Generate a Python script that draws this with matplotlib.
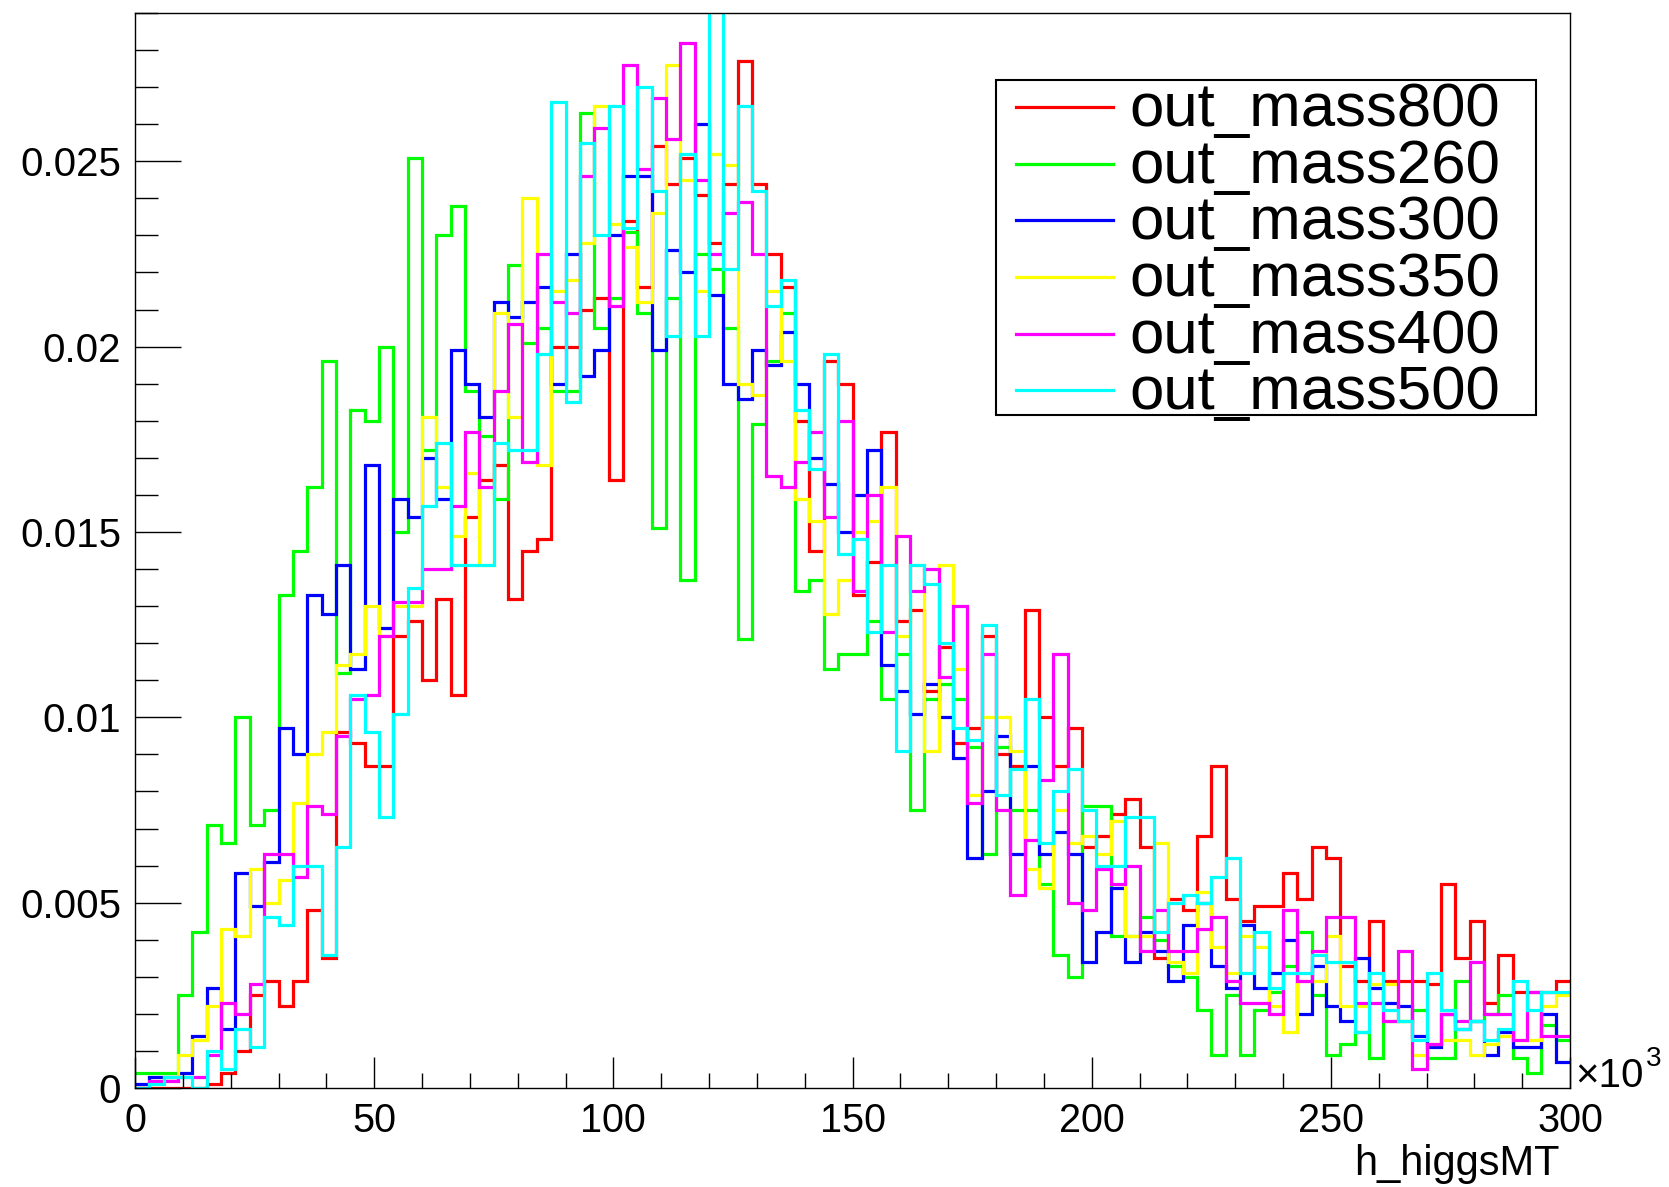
import matplotlib.pyplot as plt
from matplotlib.lines import Line2D
from matplotlib.patches import Rectangle
from matplotlib.ticker import MultipleLocator, FixedLocator, FixedFormatter
import numpy as np

plt.rcParams['font.family'] = ['Liberation Sans', 'DejaVu Sans']

# binning of h_higgsMT (units of 10^3): 100 bins from 0 to 300
x_min, x_max, n_bins = 0, 300, 100

# normalised bin contents
mass800 = [0.0, 0.0, 0.0, 0.0, 0.0, 0.0001, 0.0004, 0.0010, 0.0025, 0.0029,
           0.0022, 0.0029, 0.0048, 0.0035, 0.0096, 0.0093, 0.0087, 0.0087, 0.0122, 0.0126,
           0.0110, 0.0132, 0.0106, 0.0154, 0.0164, 0.0168, 0.0132, 0.0145, 0.0148, 0.0200,
           0.0200, 0.0210, 0.0213, 0.0164, 0.0234, 0.0216, 0.0254, 0.0244, 0.0251, 0.0241,
           0.0228, 0.0244, 0.0277, 0.0244, 0.0225, 0.0216, 0.0180, 0.0145, 0.0196, 0.0190,
           0.0133, 0.0142, 0.0177, 0.0126, 0.0129, 0.0107, 0.0119, 0.0093, 0.0097, 0.0122,
           0.0090, 0.0087, 0.0129, 0.0100, 0.0087, 0.0097, 0.0065, 0.0068, 0.0074, 0.0078,
           0.0065, 0.0035, 0.0051, 0.0048, 0.0068, 0.0087, 0.0051, 0.0045, 0.0049, 0.0049,
           0.0058, 0.0051, 0.0065, 0.0062, 0.0033, 0.0029, 0.0045, 0.0029, 0.0029, 0.0029,
           0.0028, 0.0055, 0.0035, 0.0045, 0.0023, 0.0036, 0.0026, 0.0026, 0.0026, 0.0029]

mass260 = [0.0004, 0.0004, 0.0004, 0.0025, 0.0042, 0.0071, 0.0066, 0.0100, 0.0071, 0.0075,
           0.0133, 0.0145, 0.0162, 0.0196, 0.0112, 0.0183, 0.0180, 0.0200, 0.0150, 0.0251,
           0.0172, 0.0230, 0.0238, 0.0188, 0.0176, 0.0159, 0.0222, 0.0201, 0.0205, 0.0188,
           0.0188, 0.0263, 0.0205, 0.0213, 0.0231, 0.0209, 0.0151, 0.0213, 0.0137, 0.0225,
           0.0221, 0.0205, 0.0121, 0.0179, 0.0196, 0.0209, 0.0134, 0.0137, 0.0113, 0.0117,
           0.0117, 0.0126, 0.0105, 0.0117, 0.0075, 0.0105, 0.0109, 0.0105, 0.0092, 0.0063,
           0.0092, 0.0075, 0.0075, 0.0055, 0.0036, 0.0030, 0.0076, 0.0076, 0.0041, 0.0041,
           0.0046, 0.0040, 0.0033, 0.0030, 0.0021, 0.0009, 0.0025, 0.0009, 0.0021, 0.0026,
           0.0033, 0.0042, 0.0025, 0.0009, 0.0012, 0.0015, 0.0008, 0.0018, 0.0018, 0.0021,
           0.0008, 0.0008, 0.0029, 0.0018, 0.0020, 0.0025, 0.0008, 0.0004, 0.0017, 0.0013]

mass300 = [0.0001, 0.0003, 0.0003, 0.0004, 0.0014, 0.0027, 0.0016, 0.0058, 0.0049, 0.0061,
           0.0097, 0.0090, 0.0133, 0.0128, 0.0141, 0.0113, 0.0168, 0.0124, 0.0159, 0.0154,
           0.0170, 0.0159, 0.0199, 0.0190, 0.0181, 0.0212, 0.0208, 0.0212, 0.0216, 0.0190,
           0.0225, 0.0192, 0.0199, 0.0230, 0.0246, 0.0246, 0.0199, 0.0226, 0.0220, 0.0260,
           0.0214, 0.0190, 0.0186, 0.0199, 0.0195, 0.0204, 0.0190, 0.0170, 0.0163, 0.0150,
           0.0160, 0.0172, 0.0114, 0.0107, 0.0101, 0.0109, 0.0100, 0.0089, 0.0062, 0.0080,
           0.0095, 0.0063, 0.0087, 0.0063, 0.0069, 0.0063, 0.0034, 0.0042, 0.0054, 0.0034,
           0.0042, 0.0037, 0.0029, 0.0044, 0.0050, 0.0033, 0.0027, 0.0044, 0.0027, 0.0031,
           0.0040, 0.0020, 0.0033, 0.0022, 0.0018, 0.0035, 0.0027, 0.0023, 0.0022, 0.0014,
           0.0011, 0.0020, 0.0016, 0.0018, 0.0009, 0.0015, 0.0011, 0.0011, 0.0020, 0.0007]

mass350 = [0.0, 0.0001, 0.0003, 0.0009, 0.0013, 0.0022, 0.0043, 0.0041, 0.0059, 0.0050,
           0.0056, 0.0077, 0.0090, 0.0096, 0.0114, 0.0117, 0.0130, 0.0122, 0.0130, 0.0130,
           0.0181, 0.0162, 0.0149, 0.0166, 0.0141, 0.0209, 0.0181, 0.0240, 0.0168, 0.0215,
           0.0218, 0.0228, 0.0265, 0.0233, 0.0227, 0.0212, 0.0236, 0.0276, 0.0245, 0.0215,
           0.0252, 0.0249, 0.0190, 0.0187, 0.0215, 0.0196, 0.0159, 0.0153, 0.0128, 0.0137,
           0.0150, 0.0153, 0.0162, 0.0122, 0.0141, 0.0091, 0.0141, 0.0113, 0.0079, 0.0100,
           0.0100, 0.0091, 0.0059, 0.0054, 0.0075, 0.0066, 0.0068, 0.0063, 0.0072, 0.0041,
           0.0041, 0.0066, 0.0034, 0.0031, 0.0053, 0.0038, 0.0031, 0.0041, 0.0038, 0.0022,
           0.0015, 0.0029, 0.0029, 0.0041, 0.0022, 0.0022, 0.0028, 0.0028, 0.0018, 0.0009,
           0.0012, 0.0013, 0.0013, 0.0009, 0.0012, 0.0014, 0.0013, 0.0013, 0.0022, 0.0025]

mass400 = [0.0, 0.0002, 0.0002, 0.0003, 0.0003, 0.0009, 0.0023, 0.0020, 0.0028, 0.0063,
           0.0063, 0.0057, 0.0076, 0.0074, 0.0095, 0.0105, 0.0106, 0.0122, 0.0131, 0.0131,
           0.0140, 0.0140, 0.0157, 0.0177, 0.0162, 0.0188, 0.0206, 0.0169, 0.0225, 0.0212,
           0.0209, 0.0246, 0.0259, 0.0211, 0.0276, 0.0248, 0.0267, 0.0256, 0.0282, 0.0245,
           0.0225, 0.0236, 0.0239, 0.0225, 0.0165, 0.0162, 0.0169, 0.0177, 0.0154, 0.0180,
           0.0134, 0.0160, 0.0123, 0.0149, 0.0134, 0.0140, 0.0111, 0.0130, 0.0077, 0.0117,
           0.0075, 0.0052, 0.0067, 0.0083, 0.0117, 0.0050, 0.0048, 0.0059, 0.0055, 0.0060,
           0.0037, 0.0048, 0.0037, 0.0037, 0.0043, 0.0046, 0.0029, 0.0023, 0.0023, 0.0020,
           0.0048, 0.0029, 0.0037, 0.0046, 0.0046, 0.0023, 0.0023, 0.0018, 0.0037, 0.0005,
           0.0012, 0.0020, 0.0018, 0.0034, 0.0020, 0.0020, 0.0013, 0.0026, 0.0014, 0.0014]

mass500 = [0.0, 0.0001, 0.0003, 0.0003, 0.0, 0.0010, 0.0005, 0.0016, 0.0011, 0.0046,
           0.0044, 0.0060, 0.0060, 0.0036, 0.0065, 0.0106, 0.0096, 0.0073, 0.0101, 0.0135,
           0.0157, 0.0174, 0.0141, 0.0141, 0.0141, 0.0174, 0.0172, 0.0172, 0.0198, 0.0266,
           0.0185, 0.0255, 0.0230, 0.0265, 0.0232, 0.0270, 0.0242, 0.0203, 0.0252, 0.0203,
           0.0300, 0.0221, 0.0265, 0.0242, 0.0211, 0.0218, 0.0183, 0.0167, 0.0198, 0.0144,
           0.0148, 0.0123, 0.0141, 0.0091, 0.0141, 0.0136, 0.0120, 0.0097, 0.0094, 0.0125,
           0.0079, 0.0086, 0.0105, 0.0066, 0.0080, 0.0086, 0.0075, 0.0060, 0.0060, 0.0073,
           0.0073, 0.0042, 0.0050, 0.0052, 0.0050, 0.0057, 0.0062, 0.0031, 0.0042, 0.0027,
           0.0031, 0.0031, 0.0036, 0.0034, 0.0034, 0.0015, 0.0031, 0.0021, 0.0018, 0.0013,
           0.0031, 0.0021, 0.0016, 0.0018, 0.0013, 0.0016, 0.0029, 0.0021, 0.0026, 0.0026]

series_names = ['out_mass800', 'out_mass260', 'out_mass300',
                'out_mass350', 'out_mass400', 'out_mass500']
series_values = [mass800, mass260, mass300, mass350, mass400, mass500]
series_colors = ['#ff0000', '#00ff00', '#0000ff', '#ffff00', '#ff00ff', '#00ffff']

y_ticks = [0, 0.005, 0.01, 0.015, 0.02, 0.025]
y_tick_labels = ['0', '0.005', '0.01', '0.015', '0.02', '0.025']
x_ticks = [0, 50, 100, 150, 200, 250, 300]
x_tick_labels = ['0', '50', '100', '150', '200', '250', '300']

W, H = 1669, 1187
fig = plt.figure(figsize=(W / 100, H / 100), dpi=100)
fig.patch.set_facecolor('white')


def fx(px):
    return px / W


def fy(py):
    # pixel row (from top) -> figure fraction
    return 1 - py / H


ax = fig.add_axes([fx(135), fy(1088), fx(1570 - 135), (1088 - 13) / H])

edges = np.linspace(x_min, x_max, n_bins + 1)
for name, vals, col in zip(series_names, series_values, series_colors):
    ax.stairs(vals, edges, baseline=None, color=col, lw=2.3)

ax.set_xlim(x_min, x_max)
ax.set_ylim(0, 0.029)

for side in ['top', 'right', 'bottom', 'left']:
    ax.spines[side].set_linewidth(1.0)
    ax.spines[side].set_color('black')

ax.xaxis.set_major_locator(FixedLocator(x_ticks))
ax.xaxis.set_major_formatter(FixedFormatter(x_tick_labels))
ax.xaxis.set_minor_locator(MultipleLocator(10))
ax.yaxis.set_major_locator(FixedLocator(y_ticks))
ax.yaxis.set_major_formatter(FixedFormatter(y_tick_labels))
ax.yaxis.set_minor_locator(MultipleLocator(0.001))

ax.tick_params(axis='both', which='both', direction='in', top=False, right=False,
               color='black', width=1.0)
ax.tick_params(axis='y', which='major', length=33, pad=10, labelsize=29)
ax.tick_params(axis='y', which='minor', length=16.5)
ax.tick_params(axis='x', which='major', length=22, pad=10, labelsize=28.5)
ax.tick_params(axis='x', which='minor', length=11)

# x axis title and the x10^3 multiplier, ROOT style
fig.text(fx(1560), fy(1175), 'h_higgsMT', fontsize=30, ha='right', va='baseline')
fig.text(fx(1575), fy(1087), '\u00d710', fontsize=29, ha='left', va='baseline')
fig.text(fx(1646), fy(1066), '3', fontsize=20, ha='left', va='baseline')

# legend box drawn by hand to get ROOT's tight rows
box_left, box_right, box_top, box_bottom = 996, 1536, 80, 415
fig.patches.append(Rectangle((fx(box_left), fy(box_bottom)),
                             fx(box_right - box_left), (box_bottom - box_top) / H,
                             transform=fig.transFigure, facecolor='white',
                             edgecolor='black', lw=1.5, zorder=5))
row_y = [107, 164, 220, 277, 334, 390]
for name, col, ry in zip(series_names, series_colors, row_y):
    fig.lines.append(Line2D([fx(1016), fx(1113)], [fy(ry), fy(ry)],
                            transform=fig.transFigure, color=col, lw=2.3, zorder=6))
    fig.text(fx(1129), fy(ry + 19), name, fontsize=44.5, ha='left', va='baseline', zorder=6)

fig.savefig('out.png', dpi=100, facecolor='white')
